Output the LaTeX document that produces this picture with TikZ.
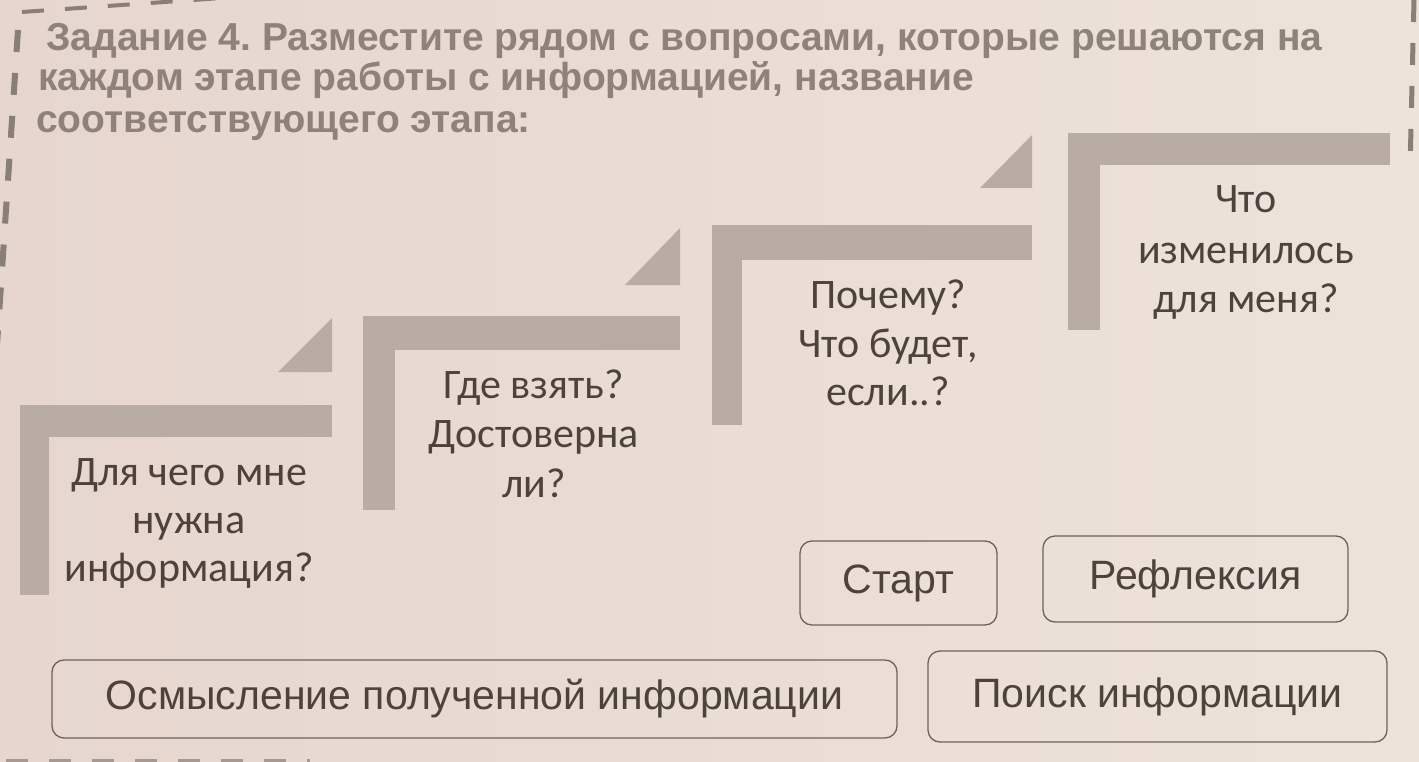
\documentclass[tikz,border=0pt]{standalone}
\usepackage{fontspec}
\setmainfont{Carlito}
\newfontfamily\arialf{Liberation Sans}
\frenchspacing
\definecolor{paperL}{HTML}{E6D6CF}
\definecolor{paperR}{HTML}{EDE3DB}
\definecolor{barc}{HTML}{B8ACA4}
\definecolor{ink}{HTML}{4E423C}
\definecolor{titleink}{HTML}{8E827B}
\definecolor{boxline}{HTML}{6E625B}
\definecolor{cutc}{HTML}{8A7F78}
\begin{document}
\begin{tikzpicture}[x=1pt,y=-1pt,
  stepbar/.style={fill=barc,draw=none},
  qline/.style={anchor=base,text=ink,inner sep=0pt,font=\fontsize{42}{48}\selectfont},
  tline/.style={anchor=base west,text=titleink,inner sep=0pt,font=\arialf\bfseries\fontsize{39}{44}\selectfont},
  answer/.style={draw=boxline,line width=1.3pt,rounded corners=12pt,text=ink,font=\arialf\fontsize{41}{46}\selectfont,inner sep=0pt},
  cutline/.style={draw=cutc,line width=6pt,dash pattern=on 22pt off 21pt}]
\useasboundingbox (0,0) rectangle (1419,762);
\shade[left color=paperL,right color=paperR] (0,0) rectangle (1419,762);

% cut lines
\draw[cutline,line width=4pt] (22,12) -- (250,-4);
\draw[cutline] (18,30) -- (-3,345);
\draw[cutline,line width=5pt] (1414,0) -- (1410,170);
\draw[cutline,line width=4pt,cutc!70!paperL] (6,761) -- (310,761);

% title
\node[tline] (t1) at (46,51) {Задание 4. Разместите рядом с вопросами, которые решаются на};
\node[tline] (t2) at (38,91) {каждом этапе работы с информацией, название};
\node[tline] (t3) at (36,133) {соответствующего этапа:};

% steps
\fill[stepbar] (20,405) rectangle (332,437);
\fill[stepbar] (20,405) rectangle (49,595);
\fill[stepbar] (278,372) -- (332,318) -- (332,372) -- cycle;

\fill[stepbar] (363,316) rectangle (680,350);
\fill[stepbar] (363,316) rectangle (395,510);
\fill[stepbar] (625,285) -- (680,228) -- (680,285) -- cycle;

\fill[stepbar] (712,225) rectangle (1032,260);
\fill[stepbar] (712,225) rectangle (742,425);
\fill[stepbar] (980,188) -- (1032,135) -- (1032,188) -- cycle;

\fill[stepbar] (1068,133) rectangle (1390,165);
\fill[stepbar] (1068,133) rectangle (1100,330);

% step questions
\node[qline] (q1a) at (189,485) {Для чего мне};
\node[qline] (q1b) at (189,533) {нужна};
\node[qline] (q1c) at (189,581) {информация?};

\node[qline] (q2a) at (534,398) {Где взять?};
\node[qline] (q2b) at (534,447) {Достоверна};
\node[qline] (q2c) at (534,497) {ли?};

\node[qline] (q3a) at (888,308) {Почему?};
\node[qline] (q3b) at (888,357) {Что будет,};
\node[qline] (q3c) at (888,405) {если..?};

\node[qline] (q4a) at (1246,213) {Что};
\node[qline] (q4b) at (1246,263) {изменилось};
\node[qline] (q4c) at (1246,312) {для меня?};

% answer boxes
\node[answer,minimum width=197pt,minimum height=84pt] (start) at (898.5,583) {Старт};
\node[answer,minimum width=305pt,minimum height=86pt] (refl) at (1195.5,579) {Рефлексия};
\node[answer,minimum width=845pt,minimum height=78pt] (osm) at (474.5,699) {Осмысление полученной информации};
\node[answer,minimum width=459pt,minimum height=91pt] (poisk) at (1157.5,696.5) {Поиск информации};
\end{tikzpicture}
\end{document}
